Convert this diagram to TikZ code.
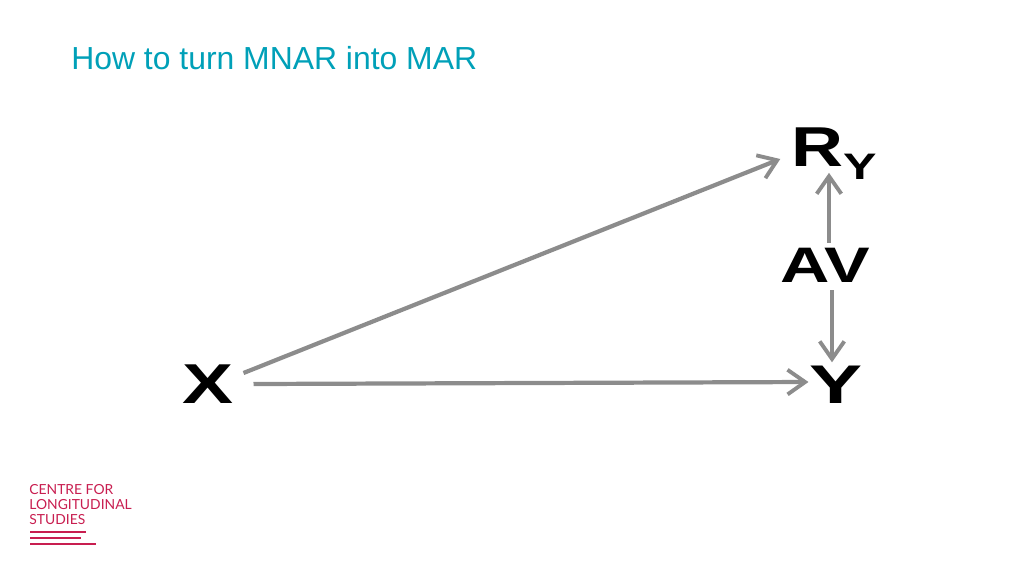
\documentclass[tikz,border=0pt]{standalone}
\usepackage{fontspec}
\usepackage{graphicx}
\usepackage{tikz}
\usetikzlibrary{arrows.meta}
\setmainfont{Liberation Sans}
\newfontfamily\logofont{Lato}
\definecolor{titleteal}{RGB}{0,160,184}
\definecolor{logored}{RGB}{200,30,80}
\definecolor{linkgrey}{RGB}{140,140,140}
\newcommand{\wide}[2]{\scalebox{#1}[1]{#2}}
\tikzset{
	var/.style={inner sep=0pt, outer sep=0pt, font=\bfseries},
	link/.style={draw=linkgrey, line width=2.4pt, -{Straight Barb[length=10pt,width=14pt,line width=2.2pt]}},
	logotext/.style={anchor=base west, inner sep=0pt, text=logored, font=\logofont\fontsize{7.9}{9}\selectfont},
	logorule/.style={draw=logored, line width=0.7pt}
}
\begin{document}
\begin{tikzpicture}[x=0.02cm,y=-0.02cm]
\useasboundingbox (0,0) rectangle (1024,576);

\node [anchor=base west, inner sep=0pt, text=titleteal] (title) at (71,69) {\fontsize{18.15}{20}\selectfont How to turn MNAR into MAR};

\node [var] (x) at (208,384) {\fontsize{32}{32}\selectfont\wide{1.36}{X}};
\node [var] (ry) at (834,154) {\fontsize{32}{32}\selectfont\wide{1.28}{R}\raisebox{-7.4pt}{\fontsize{21}{21}\selectfont\wide{1.36}{Y}}};
\node [var] (av) at (825,265) {\fontsize{28.4}{28.4}\selectfont\wide{1.37}{AV}};
\node [var] (y) at (836,385) {\fontsize{31}{31}\selectfont\wide{1.46}{Y}};

\draw [link] ([shift={(10,-11)}]x.east) -- ([shift={(-11,5)}]ry.west);
\draw [link] ([shift={(20,0)}]x.east) -- ([shift={(-1,-3)}]y.west);
\draw [link] ([shift={(4,-5)}]av.north) -- ([shift={(-5,-7)}]ry.south);
\draw [link] ([shift={(7,8)}]av.south) -- ([shift={(-4,-4)}]y.north);

\node [logotext] (logoa) at (29,494) {CENTRE FOR};
\node [logotext] (logob) at (29,509) {LONGITUDINAL};
\node [logotext] (logoc) at (29,524) {STUDIES};
\draw [logorule] (30,532) to (86,532);
\draw [logorule] (30,538) to (81,538);
\draw [logorule] (30,544) to (96,544);
\end{tikzpicture}
\end{document}
